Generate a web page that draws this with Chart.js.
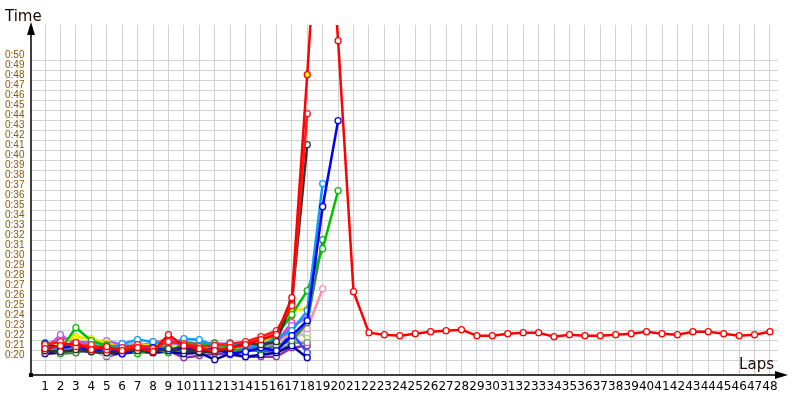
<!DOCTYPE html>
<html>
<head>
<meta charset="utf-8">
<script src="https://cdn.jsdelivr.net/npm/chart.js@4"></script>
<style>
  html, body { margin: 0; padding: 0; background: #fff; }
  #wrap { width: 800px; height: 400px; }
</style>
</head>
<body>
<div id="wrap"><canvas id="lapChart"></canvas></div>
<script>
// Voltas 1..48
var laps = [];
for (var i = 1; i <= 48; i++) laps.push(i);
var lapLabels = laps.map(String);

// Marcas do eixo Y (segundos) e os textos
var timeTicks = [20,21,22,23,24,25,26,27,28,29,30,31,32,33,34,35,36,37,38,39,40,41,42,43,44,45,46,47,48,49,50];
var timeLabels = ['0:20','0:21','0:22','0:23','0:24','0:25','0:26','0:27','0:28','0:29','0:30','0:31','0:32','0:33','0:34','0:35','0:36','0:37','0:38','0:39','0:40','0:41','0:42','0:43','0:44','0:45','0:46','0:47','0:48','0:49','0:50'];

// Tempos por volta (segundos), um array por piloto
var mainRed = [21.2,21.5,21.8,21.1,21.4,21.0,21.3,20.9,22.6,21.5,21.2,21.0,21.3,21.6,22.1,22.6,26.3,48.6,73.0,52.0,26.9,22.8,22.6,22.5,22.7,22.9,23.0,23.1,22.5,22.5,22.7,22.8,22.8,22.4,22.6,22.5,22.5,22.6,22.7,22.9,22.7,22.6,22.9,22.9,22.7,22.5,22.6,22.9];
var red2 = [21.6,21.9,21.4,21.6,21.1,21.3,21.6,21.2,21.9,21.7,21.4,21.5,21.7,21.9,22.4,23.0,25.5,44.7];
var black = [21.0,20.9,21.1,20.9,20.8,21.0,21.0,20.9,21.2,21.0,20.9,20.9,21.2,21.8,21.6,21.9,25.8,41.6];
var blue = [21.7,21.3,21.5,21.0,21.2,20.7,21.1,21.3,21.0,21.4,20.9,21.2,20.7,20.9,21.3,21.0,22.5,24.0,35.4,44.0];
var deepSky = [21.5,21.0,21.2,21.4,20.9,21.7,22.1,21.9,21.6,22.2,22.1,21.5,21.8,21.4,21.6,22.2,23.0,25.0,37.7];
var green = [21.8,21.1,23.3,22.0,21.5,21.4,20.7,21.2,20.8,21.8,21.6,21.7,21.3,21.5,21.2,22.5,24.6,27.0,31.2,37.0];
var darkGreen = [21.3,20.7,20.8,21.2,21.6,21.1,21.4,21.5,21.3,21.1,21.0,21.3,21.1,21.0,21.1,21.5,22.0,23.8,32.1];
var yellow = [21.4,21.7,22.4,22.2,21.8,21.2,21.5,21.6,21.4,21.3,21.5,21.1,21.3,21.4,21.9,22.4,25.0,25.2,35.3];
var violet = [21.1,22.6,21.6,21.9,22.0,21.6,21.3,21.9,21.8,21.6,21.4,21.7,21.4,21.5,21.5,21.8,23.5,24.3,35.5];
var pink = [20.9,21.4,21.3,21.5,21.2,21.2,21.8,21.4,21.5,21.2,21.6,21.0,21.5,21.7,21.8,22.0,22.6,23.2,27.2];
var navy = [20.7,20.8,21.0,20.9,20.8,20.7,20.9,20.8,20.9,20.7,20.8,20.1,20.7,20.4,20.6,20.8,21.5,20.3];
var blue2 = [21.2,21.2,21.4,21.3,21.0,21.3,21.5,21.1,21.4,21.3,21.2,20.9,21.0,21.2,20.9,21.1,22.8,20.8];
var gray = [20.8,21.0,20.8,21.4,21.0,20.9,21.2,21.0,20.9,21.1,20.7,21.0,20.9,21.1,21.0,20.9,21.8,21.8];
var silver = [21.3,21.1,21.2,21.0,20.5,21.1,20.9,21.3,21.1,21.0,21.2,21.4,21.2,21.3,21.2,21.3,22.3,22.8];
var lightGreen = [21.0,21.5,21.7,21.4,21.3,20.9,21.0,21.2,21.3,21.2,21.1,21.2,21.5,21.2,21.4,21.7,23.2,22.3];
var cyan = [21.4,21.8,21.3,21.7,21.4,21.5,21.7,21.6,21.2,21.5,21.3,21.6,21.4,21.6,21.5,21.6,23.4,24.3];
var purple = [21.0,20.9,21.0,21.1,20.4,20.8,21.0,20.8,21.0,20.3,20.5,20.7,20.6,20.4,20.4,20.4,21.3,21.5];
var magenta = [21.5,22.3,21.9,21.8,21.7,21.4,21.2,21.7,22.0,21.9,21.7,21.8,21.6,21.3,21.7,21.9,23.8];
var salmon = [21.2,21.6,21.5,21.3,21.5,21.5,21.4,21.8,22.2,21.8,21.5,21.3,21.5,21.8,22.2,22.8,24.5];

function serie(vals, color, opts) {
  opts = opts || {};
  return {
    data: vals.map(function(v, i) { return { x: laps[i], y: v }; }),
    borderColor: color,
    backgroundColor: color,
    borderWidth: opts.width || 2.5,
    pointRadius: 3,
    pointBorderWidth: 1.3,
    pointBorderColor: color,
    pointBackgroundColor: opts.fill || '#ffffff',
    tension: 0,
    spanGaps: false
  };
}

// cor do ponto: volta 18 do vermelho principal com preenchimento amarelo
var mainRedFill = mainRed.map(function(v, i) { return i === 17 ? '#ffff00' : '#ffffff'; });

var datasets = [
  serie(mainRed, '#ff0000', { width: 2.5, fill: mainRedFill }),
  serie(red2, '#ff1a1a'),
  serie(black, '#333333'),
  serie(blue, '#0000ff'),
  serie(deepSky, '#0a9cff'),
  serie(green, '#00c000'),
  serie(darkGreen, '#3c8c3c'),
  serie(yellow, '#e8e800', { fill: '#ffff00' }),
  serie(violet, '#b45cff'),
  serie(pink, '#ff8fb0'),
  serie(navy, '#0000a8'),
  serie(blue2, '#2f4fff'),
  serie(gray, '#8c8c8c'),
  serie(silver, '#c4c4c4'),
  serie(lightGreen, '#9ed060'),
  serie(cyan, '#34cccc'),
  serie(purple, '#9030a0'),
  serie(magenta, '#e040c0'),
  serie(salmon, '#ff6464')
];

// Eixos com setas, quadradinho na origem e titulos
var axesPlugin = {
  id: 'axesPlugin',
  afterDraw: function(chart) {
    var c = chart.ctx;
    var a = chart.chartArea;
    c.save();
    c.strokeStyle = '#000';
    c.fillStyle = '#000';
    c.lineWidth = 1.5;
    c.beginPath();
    c.moveTo(a.left, a.bottom);
    c.lineTo(a.left, a.top + 4);
    c.moveTo(a.left, a.bottom);
    c.lineTo(a.right + 6, a.bottom);
    c.stroke();
    // seta Y
    c.beginPath();
    c.moveTo(a.left, a.top - 3);
    c.lineTo(a.left - 4, a.top + 10);
    c.lineTo(a.left + 4, a.top + 10);
    c.closePath();
    c.fill();
    // seta X
    c.beginPath();
    c.moveTo(a.right + 10, a.bottom);
    c.lineTo(a.right - 3, a.bottom - 4);
    c.lineTo(a.right - 3, a.bottom + 4);
    c.closePath();
    c.fill();
    c.fillRect(a.left - 2, a.bottom - 2, 4, 4);
    c.font = '15px "DejaVu Sans"';
    c.fillStyle = '#1a0800';
    c.textBaseline = 'alphabetic';
    c.textAlign = 'left';
    c.fillText('Time', 5, 21);
    c.textAlign = 'right';
    c.fillText('Laps', a.right - 4, a.bottom - 6);
    c.restore();
  }
};

var options = {
  responsive: true,
  maintainAspectRatio: false,
  animation: false,
  layout: { padding: { left: 5, top: 25, right: 22, bottom: 0 } },
  scales: {
    x: {
      type: 'linear',
      min: 0.09,
      max: 48.52,
      afterBuildTicks: function(scale) {
        scale.ticks = laps.map(function(v) { return { value: v }; });
      },
      afterFit: function(scale) { scale.height = 25; },
      grid: { color: '#d2d2d2', lineWidth: 1, drawTicks: false },
      border: { display: false },
      ticks: {
        padding: 5,
        autoSkip: false,
        maxRotation: 0,
        color: '#000',
        font: { family: 'DejaVu Sans', size: 12 },
        callback: function(v) { return lapLabels[laps.indexOf(v)]; }
      }
    },
    y: {
      min: 18.57,
      max: 53.57,
      afterBuildTicks: function(scale) {
        scale.ticks = timeTicks.map(function(v) { return { value: v }; });
      },
      afterFit: function(scale) { scale.width = 26; },
      grid: { color: '#d2d2d2', lineWidth: 1, drawTicks: false },
      border: { display: false },
      ticks: {
        autoSkip: false,
        crossAlign: 'far',
        labelOffset: -5,
        padding: 0,
        color: '#8f5500',
        font: { family: 'Liberation Sans', size: 10 },
        callback: function(v) { return timeLabels[timeTicks.indexOf(v)]; }
      }
    }
  },
  plugins: {
    legend: { display: false },
    tooltip: { enabled: false }
  }
};

var ctx = document.getElementById('lapChart').getContext('2d');
var lapChart = new Chart(ctx, {
  type: 'line',
  data: { datasets: datasets },
  options: options,
  plugins: [axesPlugin]
});
</script>
</body>
</html>
